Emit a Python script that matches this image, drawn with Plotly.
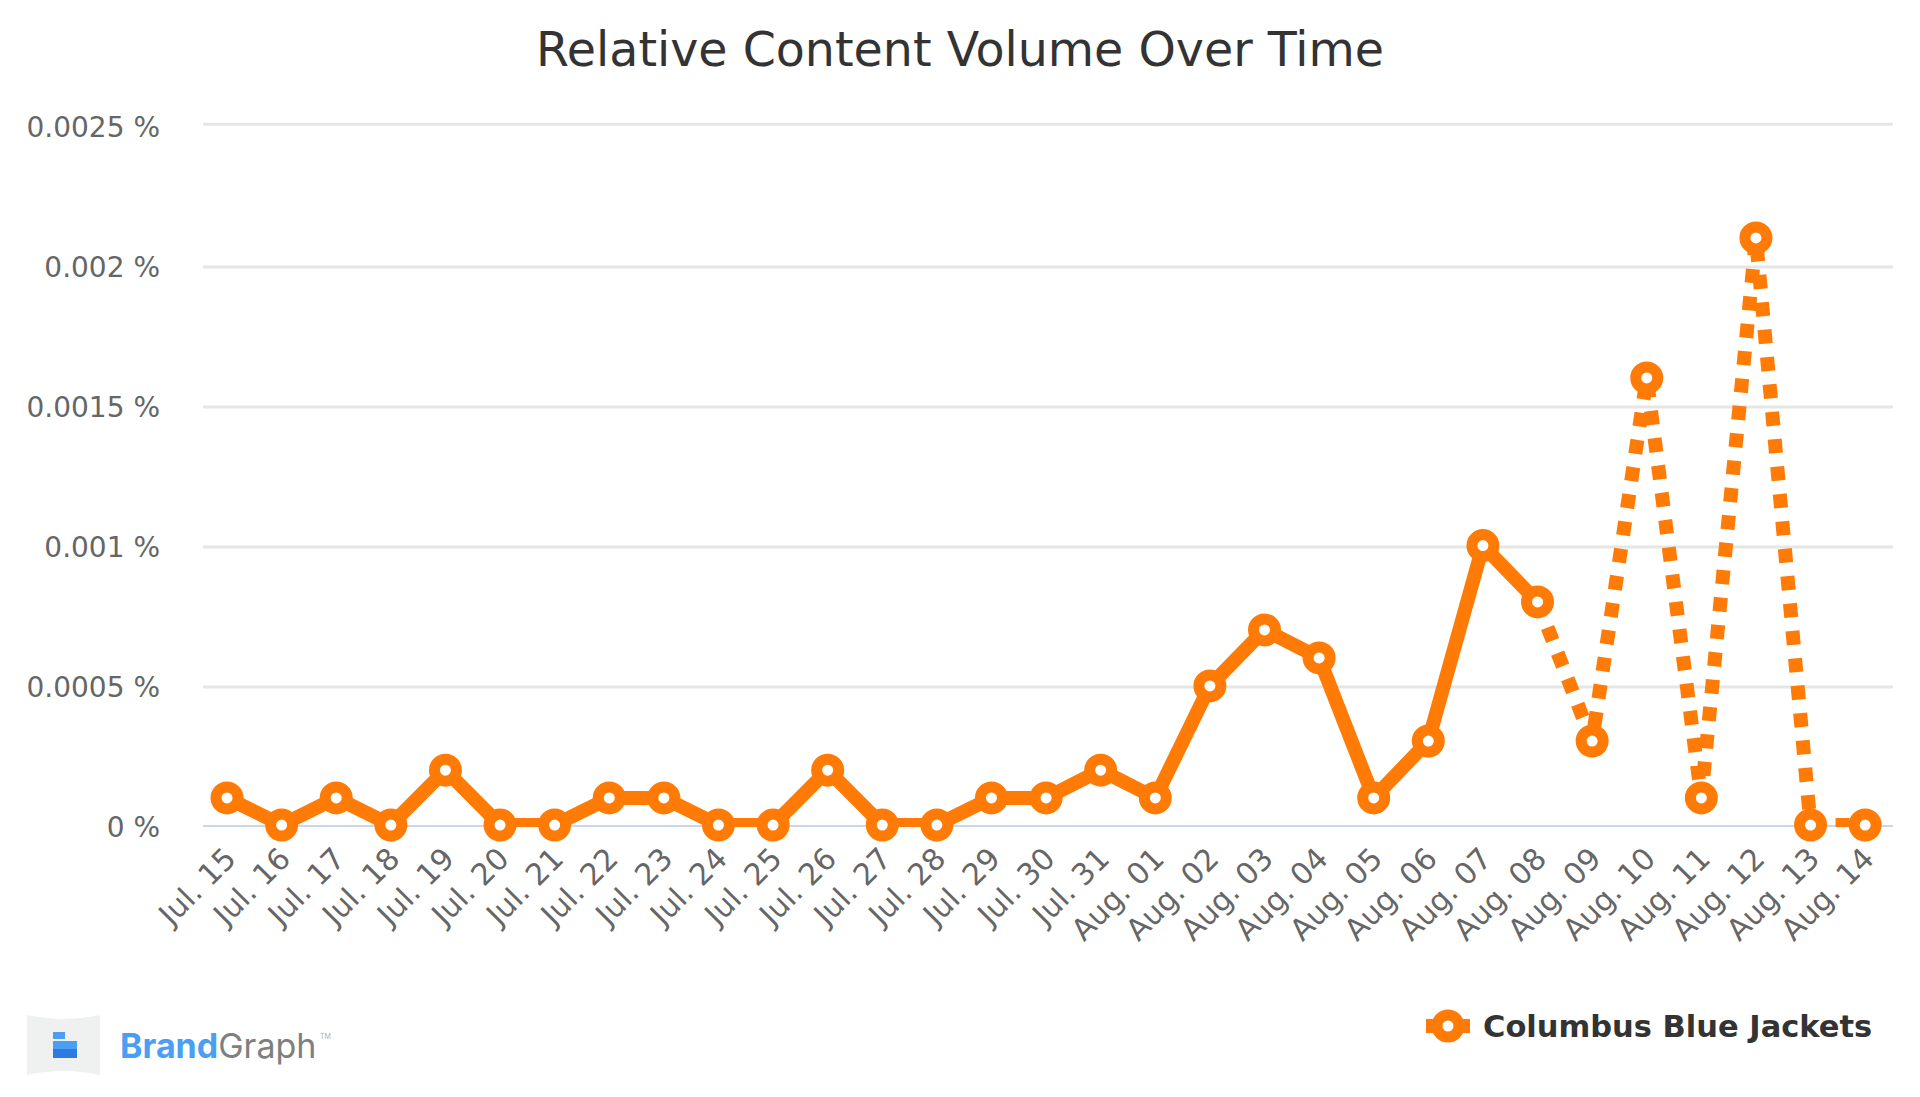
"""Relative content volume line chart, written to out.html."""

import plotly.graph_objects as go

TITLE = "Relative Content Volume Over Time"
SERIES_NAME = "Columbus Blue Jackets"

DATES = [
    "Jul. 15", "Jul. 16", "Jul. 17", "Jul. 18", "Jul. 19", "Jul. 20", "Jul. 21", "Jul. 22",
    "Jul. 23", "Jul. 24", "Jul. 25", "Jul. 26", "Jul. 27", "Jul. 28", "Jul. 29", "Jul. 30",
    "Jul. 31", "Aug. 01", "Aug. 02", "Aug. 03", "Aug. 04", "Aug. 05", "Aug. 06", "Aug. 07",
    "Aug. 08", "Aug. 09", "Aug. 10", "Aug. 11", "Aug. 12", "Aug. 13", "Aug. 14",
]
VALUES = [
    0.000104, 0.000007, 0.000104, 0.000007, 0.000203, 0.000007, 0.000007, 0.000104,
    0.000104, 0.000007, 0.000007, 0.000203, 0.000007, 0.000007, 0.000104, 0.000104,
    0.000203, 0.000104, 0.000504, 0.000704, 0.000604, 0.000104, 0.000307, 0.001005,
    0.000804, 0.000307, 0.001604, 0.000104, 0.002104, 0.000007, 0.000007,
]
# last point of the solid part, the rest is drawn dotted
SOLID_END = DATES.index("Aug. 08")

Y_TICKS = [0, 0.0005, 0.001, 0.0015, 0.002, 0.0025]
Y_LABELS = ["0 %", "0.0005 %", "0.001 %", "0.0015 %", "0.002 %", "0.0025 %"]
# the top gridline sits a little above its label in the picture
GRID_VALUES = [0.0005, 0.001, 0.0015, 0.002, 0.00251]

ORANGE = "#ff7b05"
TEXT_FONT = "DejaVu Sans"

# the page puts an 8px margin around the figure
PAGE_MARGIN = 8
FIG_W, FIG_H = 1904, 1081
PLOT_L, PLOT_R, PLOT_T, PLOT_B = 203, 1893, 122, 827


def px(x):
    """Window pixel x to paper coordinate."""
    return (x - PLOT_L) / (PLOT_R - PLOT_L)


def py(y):
    """Window pixel y to paper coordinate."""
    return (PLOT_B - y) / (PLOT_B - PLOT_T)


fig = go.Figure()

fig.add_trace(go.Scatter(
    x=DATES[:SOLID_END + 1], y=VALUES[:SOLID_END + 1], mode="lines",
    line=dict(color=ORANGE, width=14), cliponaxis=False, showlegend=False,
))
fig.add_trace(go.Scatter(
    x=DATES[SOLID_END:], y=VALUES[SOLID_END:], mode="lines",
    line=dict(color=ORANGE, width=14, dash="14px,13.5px"), cliponaxis=False, showlegend=False,
))
fig.add_trace(go.Scatter(
    x=DATES, y=VALUES, mode="markers", name=SERIES_NAME,
    marker=dict(size=22, color="white", line=dict(color=ORANGE, width=11)),
    cliponaxis=False, showlegend=False,
))

shapes = []
for value in GRID_VALUES:
    shapes.append(dict(type="line", xref="paper", yref="y", x0=0, x1=1, y0=value, y1=value,
                       layer="below", line=dict(color="#e6e6e6", width=3)))
shapes.append(dict(type="line", xref="paper", yref="y", x0=0, x1=1, y0=0, y1=0,
                   layer="below", line=dict(color="#ccd6eb", width=4)))

# legend key and logo are drawn by hand, plotly caps the legend line and marker sizes
shapes += [
    dict(type="line", xref="paper", yref="paper", x0=px(1426), x1=px(1470),
         y0=py(1026), y1=py(1026), line=dict(color=ORANGE, width=14)),
    dict(type="circle", xref="paper", yref="paper", x0=px(1437), x1=px(1459),
         y0=py(1037), y1=py(1015), fillcolor="white", line=dict(color=ORANGE, width=11)),
    dict(type="path", xref="paper", yref="paper", fillcolor="#eff1f1", line=dict(width=0),
         path=f"M {px(27)} {py(1015)} Q {px(63)} {py(1023)} {px(100)} {py(1015)} "
              f"L {px(100)} {py(1075)} Q {px(63)} {py(1067)} {px(27)} {py(1075)} Z"),
]
for x0, x1, y0, y1, color in [
    (53, 65, 1032, 1039, "#4a9ff5"),
    (53, 77, 1041, 1049, "#4a9ff5"),
    (53, 77, 1049, 1058, "#2f7ae0"),
]:
    shapes.append(dict(
        type="rect", xref="paper", yref="paper", fillcolor=color, line=dict(width=0),
        x0=px(x0), x1=px(x1), y0=py(y1), y1=py(y0),
    ))

annotations = [
    dict(text=f"<b>{SERIES_NAME}</b>", xref="paper", yref="paper", showarrow=False,
         x=px(1481), y=py(1026), xanchor="left", yanchor="middle",
         font=dict(family=TEXT_FONT, size=30.5, color="#333333")),
    dict(text='<b><span style="color:#4a9ff5">Brand</span></b>'
              '<span style="color:#7d7f82">Graph</span>',
         xref="paper", yref="paper", showarrow=False,
         x=px(118), y=py(1045), xanchor="left", yanchor="middle",
         font=dict(family="Inter", size=34)),
    dict(text="TM", xref="paper", yref="paper", showarrow=False,
         x=px(318), y=py(1036), xanchor="left", yanchor="middle",
         font=dict(family="Inter", size=7, color="#b0b0b0")),
]

fig.update_layout(
    title=dict(text=TITLE, x=0.5, xref="container", xanchor="center",
               y=1 - (49 - PAGE_MARGIN) / FIG_H, yanchor="middle",
               font=dict(family=TEXT_FONT, size=47.5, color="#333333")),
    width=FIG_W,
    height=FIG_H,
    margin=dict(
        l=PLOT_L - PAGE_MARGIN, r=FIG_W + PAGE_MARGIN - PLOT_R,
        t=PLOT_T - PAGE_MARGIN, b=FIG_H + PAGE_MARGIN - PLOT_B,
    ),
    paper_bgcolor="white",
    plot_bgcolor="white",
    showlegend=False,
    shapes=shapes,
    annotations=annotations,
    xaxis=dict(
        type="category", categoryorder="array", categoryarray=DATES, range=[-0.44, 30.51],
        tickmode="array", tickvals=DATES, ticktext=DATES,
        tickangle=-45, showgrid=False, zeroline=False, showline=False,
        ticks="", ticklabelstandoff=7,
        tickfont=dict(family=TEXT_FONT, size=30, color="#666666"),
    ),
    yaxis=dict(
        range=[0, 0.002518], tickvals=Y_TICKS, ticktext=Y_LABELS, showgrid=False,
        zeroline=False, showline=False, ticks="", ticklabelstandoff=42,
        tickfont=dict(family=TEXT_FONT, size=28, color="#666666"),
    ),
)

fig.write_html("out.html")
